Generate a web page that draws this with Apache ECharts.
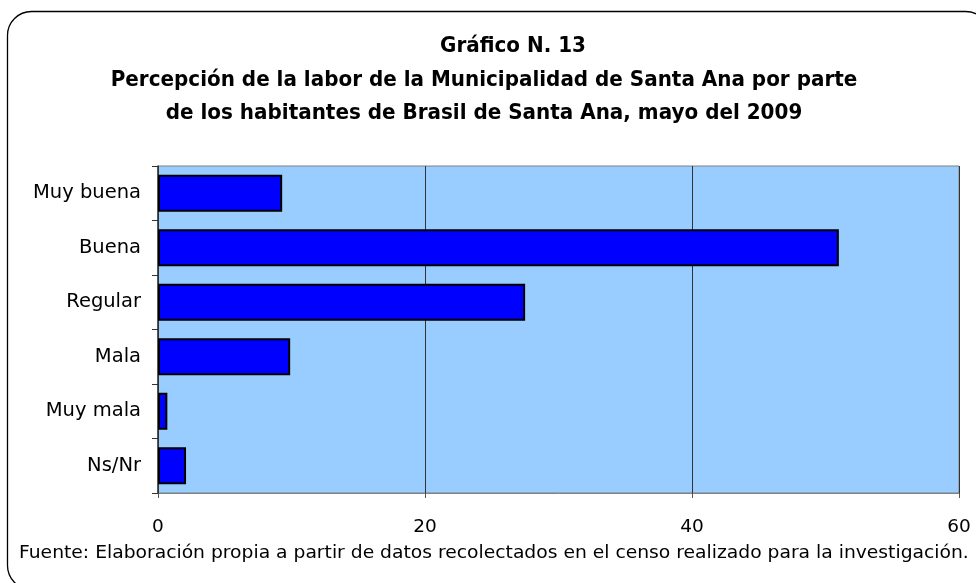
<!DOCTYPE html>
<html>
<head>
<meta charset="utf-8">
<script src="https://cdn.jsdelivr.net/npm/echarts@6/dist/echarts.min.js"></script>
<style>
  html, body { margin: 0; padding: 0; background: #fff; }
  #chart { width: 976px; height: 583px; }
</style>
</head>
<body>
<div id="chart"></div>
<script>
// categories top to bottom
const categories = ['Muy buena', 'Buena', 'Regular', 'Mala', 'Muy mala', 'Ns/Nr'];
// percentages
const values = [9.3, 51.0, 27.5, 9.9, 0.7, 2.1];
const xTicks = [0, 20, 40, 60];

const titleLines = [
  'Gráfico N. 13',
  'Percepción de la labor de la Municipalidad de Santa Ana por parte',
  'de los habitantes de Brasil de Santa Ana, mayo del 2009'
];
// first line sits a little right of the other two in the source
const titleCenters = [513, 484, 484];
const footer = 'Fuente: Elaboración propia a partir de datos recolectados en el censo realizado para la investigación.';

const FONT = '"DejaVu Sans", "Liberation Sans", Arial, sans-serif';

const chart = echarts.init(document.getElementById('chart'), null, { renderer: 'canvas' });

const titleGraphics = titleLines.map((line, i) => ({
  type: 'text',
  x: titleCenters[i],
  y: 47 + i * 33.5,
  scaleX: 0.95,
  style: {
    text: line,
    font: 'bold 21px ' + FONT,
    textAlign: 'center',
    textVerticalAlign: 'middle',
    fill: '#000'
  }
}));

let option = {
  backgroundColor: '#ffffff',
  graphic: [
    {
      // frame runs off the right and bottom edges in the source
      type: 'rect',
      shape: { x: 7.5, y: 11.5, width: 982, height: 578, r: 24 },
      style: { fill: 'none', stroke: '#000', lineWidth: 1.3 },
      z: -1
    },
    ...titleGraphics,
    {
      type: 'text',
      x: 19,
      y: 553,
      scaleX: 1.07,
      style: {
        text: footer,
        font: '17.5px ' + FONT,
        textVerticalAlign: 'middle',
        fill: '#000'
      }
    }
  ],
  grid: {
    left: 158,
    right: 17,
    top: 166,
    bottom: 90,
    show: true,
    backgroundColor: '#99ccff',
    borderColor: '#808080',
    borderWidth: 1
  },
  xAxis: {
    type: 'value',
    min: xTicks[0],
    max: xTicks[xTicks.length - 1],
    interval: 20,
    axisLine: { show: true, lineStyle: { color: '#808080', width: 1 } },
    axisTick: { show: true, length: 5, lineStyle: { color: '#555' } },
    axisLabel: { fontSize: 18.5, fontFamily: FONT, color: '#000', margin: 25 },
    splitLine: { show: true, lineStyle: { color: '#333', width: 1 } }
  },
  yAxis: {
    type: 'category',
    data: categories,
    inverse: true,
    axisLine: { show: true, lineStyle: { color: '#333', width: 1.5 } },
    axisTick: { show: true, length: 6, alignWithLabel: false, lineStyle: { color: '#333' } },
    axisLabel: { fontSize: 19.5, fontFamily: FONT, color: '#000', margin: 17 },
    splitLine: { show: false }
  },
  series: [{
    type: 'bar',
    data: values,
    barCategoryGap: '32%',
    itemStyle: { color: '#0000ff', borderColor: '#000', borderWidth: 2 },
    silent: true
  }],
  animation: false
};

chart.setOption(option);
</script>
</body>
</html>
